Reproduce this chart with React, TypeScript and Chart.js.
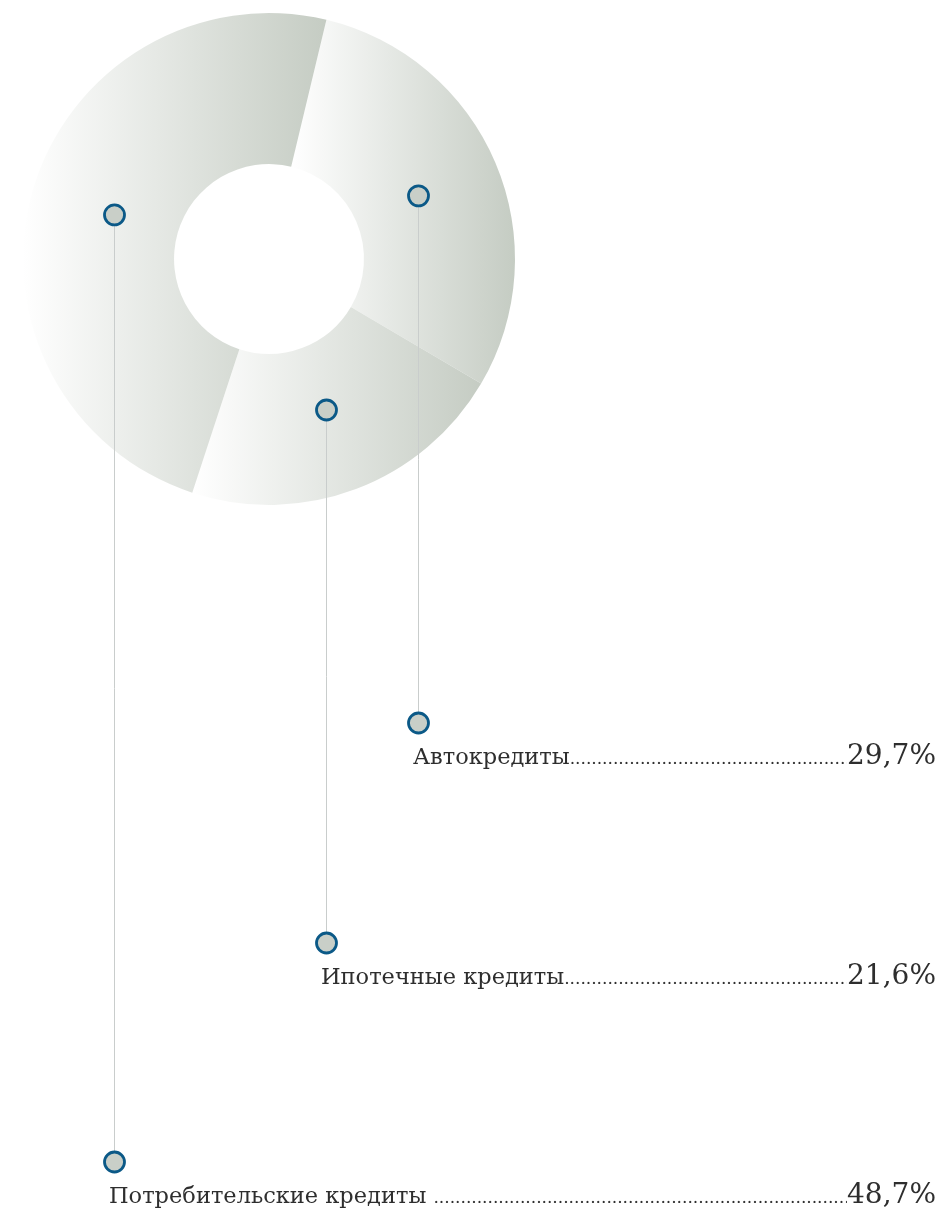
import React, { useEffect, useRef, useState } from "react";
import { Chart, registerables } from "chart.js";

Chart.register(...registerables);

// ---- data ----
const CATEGORIES = ["Автокредиты", "Ипотечные кредиты", "Потребительские кредиты "];
const SHARES = [29.7, 21.6, 48.7];
const START_ROTATION = 13.5; // degrees clockwise from 12 o'clock

// ---- layout / style ----
const PAGE_W = 942;
const PAGE_H = 1209;
const LABEL_MARKER_Y = [723, 943, 1162];
const MARKER_RADIAL_FRACTION = 0.44;
const SEG_LIGHT = "#ffffff";
const SEG_DARK = "#c5ccc3";
const MARKER_FILL = "#c9cfc8";
const MARKER_STROKE = "#0b5987";
const LEADER_LINE = "#c9cdcc";
const TEXT_COLOR = "#2e2e2e";
const FONT = "'DejaVu Serif', serif";

function fmt(v: number) {
  return v.toFixed(1).replace(".", ",") + "%";
}

function markerPoint(arc: any) {
  const p = arc.getProps(["x", "y", "startAngle", "endAngle", "innerRadius", "outerRadius"], true);
  const mid = (p.startAngle + p.endAngle) / 2;
  const r = p.innerRadius + MARKER_RADIAL_FRACTION * (p.outerRadius - p.innerRadius);
  return { x: p.x + r * Math.cos(mid), y: p.y + r * Math.sin(mid) };
}

function drawMarker(ctx: CanvasRenderingContext2D, x: number, y: number) {
  ctx.beginPath();
  ctx.arc(x, y, 10, 0, Math.PI * 2);
  ctx.fillStyle = MARKER_FILL;
  ctx.fill();
  ctx.lineWidth = 2.8;
  ctx.strokeStyle = MARKER_STROKE;
  ctx.stroke();
}

const gradientPlugin = {
  id: "segGradient",
  beforeDatasetsDraw(chart: any) {
    const meta = chart.getDatasetMeta(0);
    const ctx = chart.ctx as CanvasRenderingContext2D;
    meta.data.forEach((arc: any) => {
      const p = arc.getProps(["x", "y", "startAngle", "endAngle", "innerRadius", "outerRadius"], true);
      let minX = Infinity;
      let maxX = -Infinity;
      const steps = 90;
      for (let i = 0; i <= steps; i++) {
        const a = p.startAngle + ((p.endAngle - p.startAngle) * i) / steps;
        for (const r of [p.innerRadius, p.outerRadius]) {
          const px = p.x + r * Math.cos(a);
          if (px < minX) minX = px;
          if (px > maxX) maxX = px;
        }
      }
      const g = ctx.createLinearGradient(minX, 0, maxX, 0);
      g.addColorStop(0, SEG_LIGHT);
      g.addColorStop(1, SEG_DARK);
      arc.options = { ...arc.options, backgroundColor: g, borderWidth: 0 };
    });
  },
};

const markerPlugin = {
  id: "leaderMarkers",
  afterDatasetsDraw(chart: any) {
    const meta = chart.getDatasetMeta(0);
    const ctx = chart.ctx as CanvasRenderingContext2D;
    ctx.save();
    meta.data.forEach((arc: any, i: number) => {
      const m = markerPoint(arc);
      const x = Math.round(m.x) + 0.5;
      ctx.beginPath();
      ctx.moveTo(x, m.y);
      ctx.lineTo(x, LABEL_MARKER_Y[i]);
      ctx.lineWidth = 1;
      ctx.strokeStyle = LEADER_LINE;
      ctx.stroke();
    });
    meta.data.forEach((arc: any, i: number) => {
      const m = markerPoint(arc);
      const x = Math.round(m.x) + 0.5;
      drawMarker(ctx, x, m.y);
      drawMarker(ctx, x, LABEL_MARKER_Y[i]);
    });
    ctx.restore();
  },
};

export default function App() {
  const canvasRef = useRef<HTMLCanvasElement | null>(null);
  const [xs, setXs] = useState<number[] | null>(null);

  useEffect(() => {
    if (!canvasRef.current) return;
    const chart = new Chart(canvasRef.current, {
      type: "doughnut",
      data: {
        labels: CATEGORIES,
        datasets: [
          {
            data: SHARES,
            backgroundColor: SEG_DARK,
            borderWidth: 0,
            hoverOffset: 0,
          },
        ],
      },
      options: {
        animation: false,
        responsive: false,
        devicePixelRatio: 1,
        rotation: START_ROTATION,
        cutout: "38.6%",
        layout: { padding: { left: 23, top: 13, right: PAGE_W - 515, bottom: PAGE_H - 505 } },
        plugins: { legend: { display: false }, tooltip: { enabled: false } },
        events: [],
      },
      plugins: [gradientPlugin, markerPlugin],
    });
    const meta = chart.getDatasetMeta(0);
    setXs(meta.data.map((arc: any) => Math.round(markerPoint(arc).x)));
    return () => chart.destroy();
  }, []);

  return (
    <div style={{ position: "absolute", left: 0, top: 0, width: PAGE_W, height: PAGE_H, background: "#fff", overflow: "hidden" }}>
      <canvas ref={canvasRef} width={PAGE_W} height={PAGE_H} style={{ position: "absolute", left: 0, top: 0 }} />
      {xs &&
        CATEGORIES.map((label, i) => {
          const left = xs[i] - 5;
          return (
            <div
              key={label}
              style={{
                position: "absolute",
                left,
                top: LABEL_MARKER_Y[i] + 18,
                width: 936 - left,
                display: "flex",
                alignItems: "baseline",
                fontFamily: FONT,
                color: TEXT_COLOR,
                whiteSpace: "pre",
              }}
            >
              <span style={{ fontSize: 22.5, lineHeight: 1 }}>{label}</span>
              <span style={{ fontSize: 17, lineHeight: 1, flex: 1, overflow: "hidden", minWidth: 0 }}>
                {".".repeat(260)}
              </span>
              <span style={{ fontSize: 28, lineHeight: 1 }}>{fmt(SHARES[i])}</span>
            </div>
          );
        })}
    </div>
  );
}
